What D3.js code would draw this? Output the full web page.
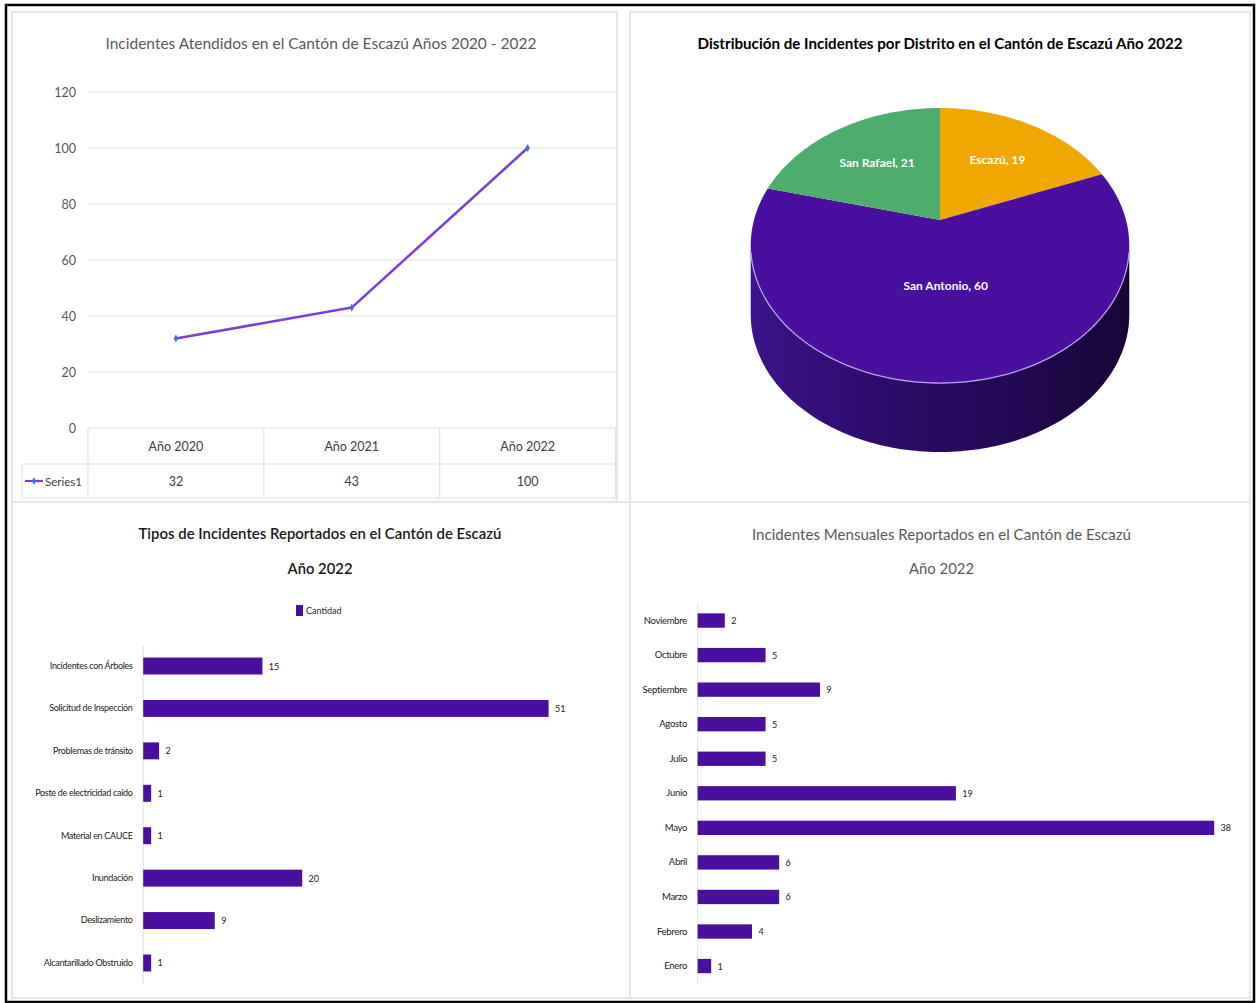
<!DOCTYPE html>
<html lang="es">
<head>
<meta charset="utf-8">
<title>Incidentes en el Cantón de Escazú</title>
<script src="https://cdn.jsdelivr.net/npm/d3@7"></script>
<style>
  html, body { margin: 0; padding: 0; background: #ffffff; }
  svg { display: block; font-family: Lato, "Noto Sans", sans-serif; }
</style>
</head>
<body>
<svg id="dash" width="1256" height="1003"></svg>
<script>
// ---- Datos ----
const years = ["Año 2020", "Año 2021", "Año 2022"];
const yearlyIncidents = [32, 43, 100];
const yTicks = [0, 20, 40, 60, 80, 100, 120];

const districts = ["Escazú", "San Antonio", "San Rafael"];
const districtIncidents = [19, 60, 21];

const incidentTypes = [
  "Incidentes con Árboles", "Solicitud de Inspección", "Problemas de tránsito",
  "Poste de electricidad caído", "Material en CAUCE", "Inundación",
  "Deslizamiento", "Alcantarillado Obstruido"
];
const typeCounts = [15, 51, 2, 1, 1, 20, 9, 1];

const months = ["Enero", "Febrero", "Marzo", "Abril", "Mayo", "Junio",
                "Julio", "Agosto", "Septiembre", "Octubre", "Noviembre"];
const monthCounts = [1, 4, 6, 6, 38, 19, 5, 5, 9, 5, 2];

// ---- Estilos ----
const PURPLE = "#4a0f9e";
const GREY_TEXT = "#595959";
const DARK_TEXT = "#1a1a1a";

const svg = d3.select("#dash");

// Marco general y paneles
const panels = [
  [12, 12, 617, 502], [630, 12, 1250, 502],
  [12, 502, 630, 998], [630, 502, 1250, 998]
];
svg.append("g").selectAll("rect").data(panels).join("rect")
  .attr("x", d => d[0]).attr("y", d => d[1])
  .attr("width", d => d[2] - d[0]).attr("height", d => d[3] - d[1])
  .attr("fill", "#fff").attr("stroke", "#e6e6e6").attr("stroke-width", 2);
svg.append("rect").attr("x", 6).attr("y", 5).attr("width", 1248).attr("height", 997)
  .attr("fill", "none").attr("stroke", "#000").attr("stroke-width", 2.5);

function title(text, x, y, width, opts) {
  svg.append("text").attr("x", x).attr("y", y)
    .attr("text-anchor", "middle").attr("dominant-baseline", "central")
    .attr("font-size", opts.size).attr("font-weight", opts.weight || 400)
    .attr("fill", opts.color)
    .attr("textLength", width).attr("lengthAdjust", "spacingAndGlyphs")
    .text(text);
}

// ================= Gráfico de líneas =================
{
  const x = d3.scaleBand().domain(years).range([88, 615.5]);
  const y = d3.scaleLinear().domain([0, 120]).range([428, 92]);

  title("Incidentes Atendidos en el Cantón de Escazú Años 2020 - 2022", 321, 43, 431,
        { size: 15, color: GREY_TEXT });

  const g = svg.append("g");
  g.selectAll("line.grid").data(yTicks.filter(t => t > 0)).join("line")
    .attr("x1", 88).attr("x2", 615.5)
    .attr("y1", d => y(d)).attr("y2", d => y(d))
    .attr("stroke", "#e6e6e6").attr("stroke-width", 1.2);

  const yAxis = g.append("g").attr("transform", "translate(76,0)")
    .call(d3.axisLeft(y).tickValues(yTicks).tickSize(0).tickPadding(0));
  yAxis.select(".domain").remove();
  yAxis.selectAll("text").attr("font-size", 12.5).attr("fill", GREY_TEXT)
    .attr("font-family", "Lato, sans-serif");

  // Tabla de datos
  const tc = "#e2e2e2";
  const rowTop = 428, rowMid = 464, rowBot = 498;
  const colEdges = [88].concat(years.map(d => x(d) + x.bandwidth()));
  g.append("line").attr("x1", 88).attr("x2", 615.5).attr("y1", rowTop).attr("y2", rowTop)
    .attr("stroke", tc).attr("stroke-width", 1.2);
  g.selectAll("line.col").data(colEdges).join("line")
    .attr("x1", d => d).attr("x2", d => d).attr("y1", rowTop).attr("y2", rowBot)
    .attr("stroke", tc).attr("stroke-width", 1.2);
  [rowMid, rowBot].forEach(yy => g.append("line").attr("x1", 22).attr("x2", 615.5)
    .attr("y1", yy).attr("y2", yy).attr("stroke", tc).attr("stroke-width", 1.2));
  g.append("line").attr("x1", 22).attr("x2", 22).attr("y1", rowMid).attr("y2", rowBot)
    .attr("stroke", tc).attr("stroke-width", 1.2);

  g.selectAll("text.yr").data(years).join("text")
    .attr("x", d => x(d) + x.bandwidth() / 2).attr("y", (rowTop + rowMid) / 2)
    .attr("text-anchor", "middle").attr("dominant-baseline", "central")
    .attr("font-size", 12.5).attr("fill", "#404040").text(d => d);
  g.selectAll("text.val").data(yearlyIncidents).join("text")
    .attr("x", (d, i) => x(years[i]) + x.bandwidth() / 2).attr("y", (rowMid + rowBot) / 2)
    .attr("text-anchor", "middle").attr("dominant-baseline", "central")
    .attr("font-size", 12.5).attr("fill", "#404040").text(d => d);

  // Leyenda de la serie dentro de la tabla
  g.append("line").attr("x1", 25).attr("x2", 43).attr("y1", 481).attr("y2", 481)
    .attr("stroke", "#7b3fd1").attr("stroke-width", 2.2);
  g.append("path").attr("d", d3.symbol(d3.symbolDiamond, 16)())
    .attr("transform", "translate(34,481)").attr("fill", "#3f74d6");
  g.append("text").attr("x", 45).attr("y", 481).attr("dominant-baseline", "central")
    .attr("font-size", 11.5).attr("fill", "#404040").text("Series1");

  // Línea y marcadores
  const pts = yearlyIncidents.map((v, i) => [x(years[i]) + x.bandwidth() / 2, y(v)]);
  g.append("path").attr("d", d3.line()(pts)).attr("fill", "none")
    .attr("stroke", "#7b3fd1").attr("stroke-width", 2.5).attr("stroke-linejoin", "round");
  g.selectAll("path.mk").data(pts).join("path")
    .attr("d", d3.symbol(d3.symbolDiamond, 18)())
    .attr("transform", d => `translate(${d[0]},${d[1]})`).attr("fill", "#3f74d6");
}

// ================= Gráfico circular 3D =================
{
  title("Distribución de Incidentes por Distrito en el Cantón de Escazú Año 2022", 940, 43, 485,
        { size: 15, weight: 700, color: "#000" });

  // Proyección en perspectiva del disco superior
  const P = { cx: 940, cy: 220, A: 186, B: 132.8, c: 0.1855, depth: 69 };
  const proj = (theta, r = 1) => {
    const X = r * Math.sin(theta), Y = r * Math.cos(theta), w = 1 + P.c * Y;
    return [P.cx + P.A * X / w, P.cy - P.B * Y / w];
  };
  const arcPts = (a0, a1, r = 1, dy = 0) => {
    const n = Math.max(2, Math.ceil(Math.abs(a1 - a0) / 0.02));
    return d3.range(n + 1).map(i => {
      const p = proj(a0 + (a1 - a0) * i / n, r);
      return [p[0], p[1] + dy];
    });
  };

  const colors = d3.scaleOrdinal().domain(districts)
    .range(["#eea800", PURPLE, "#4dad6c"]);
  const arcs = d3.pie().sort(null).value(d => d)(districtIncidents);

  const defs = svg.append("defs");
  const grad = defs.append("linearGradient").attr("id", "sideGrad")
    .attr("gradientUnits", "userSpaceOnUse")
    .attr("x1", P.cx - 190).attr("x2", P.cx + 190).attr("y1", 0).attr("y2", 0);
  grad.selectAll("stop").data([
    [0, "#3d138a"], [0.35, "#2d0b69"], [0.7, "#220851"], [1, "#160535"]
  ]).join("stop").attr("offset", d => d[0]).attr("stop-color", d => d[1]);

  // Cara lateral (frente visible)
  const tR = Math.acos(-P.c), tL = 2 * Math.PI - tR;
  const sideTop = arcPts(tR, tL);
  const sideBot = arcPts(tL, tR, 1, P.depth);
  svg.append("path").attr("d", d3.line()(sideTop.concat(sideBot)) + "Z")
    .attr("fill", "url(#sideGrad)");

  // Cara superior: porciones
  svg.append("g").selectAll("path").data(arcs).join("path")
    .attr("d", d => d3.line()([[P.cx, P.cy]].concat(arcPts(d.startAngle, d.endAngle))) + "Z")
    .attr("fill", (d, i) => colors(districts[i]));

  // Brillo del borde frontal
  svg.append("path").attr("d", d3.line()(arcPts(tR + 0.05, tL - 0.05)))
    .attr("fill", "none").attr("stroke", "#b8a2ea").attr("stroke-width", 1.3);

  // Etiquetas
  const labelR = d => d.data > 50 ? 0.45 : 0.6;
  svg.append("g").selectAll("text").data(arcs).join("text")
    .attr("x", d => proj((d.startAngle + d.endAngle) / 2, labelR(d))[0])
    .attr("y", d => proj((d.startAngle + d.endAngle) / 2, labelR(d))[1])
    .attr("text-anchor", "middle").attr("dominant-baseline", "central")
    .attr("font-size", 12).attr("font-weight", 700).attr("fill", "#fff")
    .text((d, i) => `${districts[i]}, ${d.data}`);
}

// ================= Barras: tipos de incidentes =================
{
  title("Tipos de Incidentes Reportados en el Cantón de Escazú", 320, 533, 363,
        { size: 15, weight: 600, color: DARK_TEXT });
  title("Año 2022", 320, 568, 65, { size: 15, weight: 600, color: DARK_TEXT });

  // Leyenda
  svg.append("rect").attr("x", 296).attr("y", 605).attr("width", 7).attr("height", 11)
    .attr("fill", PURPLE);
  svg.append("text").attr("x", 306).attr("y", 610).attr("dominant-baseline", "central")
    .attr("font-size", 9).attr("fill", DARK_TEXT).text("Cantidad");

  const y = d3.scaleBand().domain(incidentTypes).range([644.8, 984.2])
    .paddingInner(0.6).paddingOuter(0.3);
  const x = d3.scaleLinear().domain([0, 51]).range([142.6, 548]);

  const ax = svg.append("g").attr("transform", `translate(${x(0)},0)`)
    .call(d3.axisLeft(y).tickSize(0).tickPadding(10));
  ax.select(".domain").attr("stroke", "#e3e3e3").attr("stroke-width", 1.2);
  ax.selectAll("text").attr("font-size", 9).attr("fill", DARK_TEXT)
    .attr("font-family", "Lato, sans-serif").attr("letter-spacing", -0.3);

  const data = incidentTypes.map((k, i) => ({ k, v: typeCounts[i] }));
  svg.append("g").selectAll("rect").data(data).join("rect")
    .attr("x", x(0) + 0.6).attr("y", d => y(d.k))
    .attr("width", d => x(d.v) - x(0)).attr("height", y.bandwidth())
    .attr("fill", PURPLE);
  svg.append("g").selectAll("text").data(data).join("text")
    .attr("x", d => x(d.v) + 7).attr("y", d => y(d.k) + y.bandwidth() / 2)
    .attr("dominant-baseline", "central").attr("font-size", 9).attr("fill", DARK_TEXT)
    .text(d => d.v);
}

// ================= Barras: incidentes mensuales =================
{
  title("Incidentes Mensuales  Reportados en el Cantón de Escazú", 941.5, 534, 379,
        { size: 15, color: GREY_TEXT });
  title("Año 2022", 941.5, 568, 65, { size: 15, color: GREY_TEXT });

  const order = months.slice().reverse();
  const y = d3.scaleBand().domain(order).range([603, 983.6])
    .paddingInner(0.585).paddingOuter(0.3);
  const x = d3.scaleLinear().domain([0, 38]).range([697, 1213.6]);

  const ax = svg.append("g").attr("transform", `translate(${x(0)},0)`)
    .call(d3.axisLeft(y).tickSize(0).tickPadding(10));
  ax.select(".domain").attr("stroke", "#e3e3e3").attr("stroke-width", 1.2);
  ax.selectAll("text").attr("font-size", 9.5).attr("fill", DARK_TEXT)
    .attr("font-family", "Lato, sans-serif").attr("letter-spacing", -0.3);

  const data = months.map((k, i) => ({ k, v: monthCounts[i] }));
  svg.append("g").selectAll("rect").data(data).join("rect")
    .attr("x", x(0) + 0.6).attr("y", d => y(d.k))
    .attr("width", d => x(d.v) - x(0)).attr("height", y.bandwidth())
    .attr("fill", PURPLE);
  svg.append("g").selectAll("text").data(data).join("text")
    .attr("x", d => x(d.v) + 7).attr("y", d => y(d.k) + y.bandwidth() / 2)
    .attr("dominant-baseline", "central").attr("font-size", 9).attr("fill", DARK_TEXT)
    .text(d => d.v);
}
</script>
</body>
</html>
